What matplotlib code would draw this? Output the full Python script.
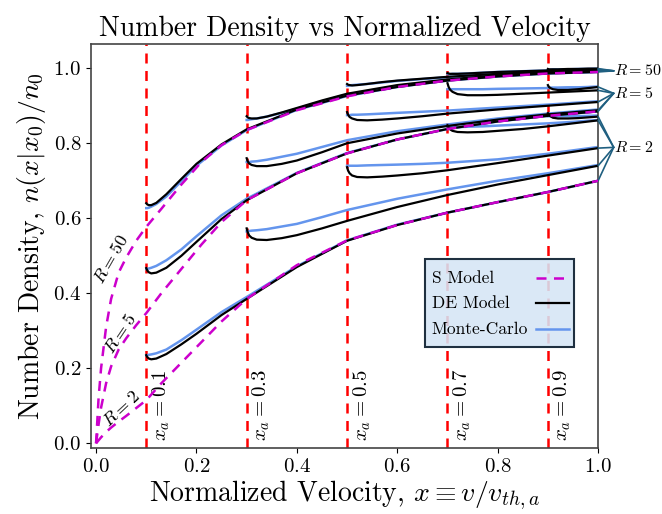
import matplotlib
matplotlib.use("Agg")
import matplotlib.pyplot as plt
from matplotlib.patches import Rectangle
from matplotlib.colors import to_rgba

plt.rcParams['font.family'] = ['cmr10', 'DejaVu Serif']
plt.rcParams['mathtext.fontset'] = 'cm'
plt.rcParams['axes.unicode_minus'] = False
plt.rcParams['axes.formatter.use_mathtext'] = True

R_values = [2, 5, 50]
xa_values = [0.1, 0.3, 0.5, 0.7, 0.9]
legend_labels = ['S Model', 'DE Model', 'Monte-Carlo']

# S model (magenta dashed)
s_x = [0, 0.005, 0.01, 0.02, 0.03, 0.045, 0.06, 0.08, 0.1, 0.13, 0.17, 0.21, 0.25, 0.3,
       0.4, 0.5, 0.6, 0.7, 0.8, 0.9, 1.0]
s_r50 = [0, 0.12, 0.2, 0.31, 0.385, 0.455, 0.495, 0.54, 0.577, 0.625, 0.69, 0.75, 0.795, 0.835,
         0.888, 0.925, 0.95, 0.967, 0.978, 0.986, 0.99]
s_r5 = [0, 0.05, 0.095, 0.16, 0.205, 0.25, 0.28, 0.315, 0.347, 0.40, 0.465, 0.53, 0.59, 0.648,
        0.72, 0.773, 0.81, 0.838, 0.858, 0.873, 0.885]
s_r2 = [0, 0.008, 0.016, 0.03, 0.042, 0.058, 0.073, 0.094, 0.115, 0.16, 0.215, 0.27, 0.325, 0.385,
        0.475, 0.541, 0.582, 0.615, 0.643, 0.67, 0.70]

# x grids of the DE / Monte-Carlo curves for each x_a
x_01 = [0.1, 0.102, 0.105, 0.11, 0.12, 0.14, 0.17, 0.2, 0.25, 0.3, 0.4, 0.5, 0.6, 0.7, 0.8, 0.9, 1.0]
x_03 = [0.3, 0.302, 0.305, 0.31, 0.32, 0.34, 0.37, 0.4, 0.45, 0.5, 0.6, 0.7, 0.8, 0.9, 1.0]
x_05 = [0.5, 0.502, 0.505, 0.51, 0.52, 0.54, 0.57, 0.6, 0.65, 0.7, 0.8, 0.9, 1.0]
x_07 = [0.7, 0.702, 0.705, 0.71, 0.72, 0.74, 0.77, 0.8, 0.85, 0.9, 0.95, 1.0]
x_09 = [0.9, 0.902, 0.905, 0.91, 0.92, 0.94, 0.96, 0.98, 1.0]

# DE model (black)
de_r50_01 = [0.64, 0.637, 0.635, 0.635, 0.641, 0.664, 0.705, 0.745, 0.797, 0.837, 0.89, 0.927, 0.95, 0.967, 0.978, 0.986, 0.99]
de_r50_03 = [0.872, 0.869, 0.867, 0.866, 0.866, 0.871, 0.882, 0.894, 0.914, 0.932, 0.955, 0.97, 0.981, 0.988, 0.992]
de_r50_05 = [0.958, 0.956, 0.955, 0.954, 0.955, 0.958, 0.963, 0.967, 0.972, 0.977, 0.985, 0.991, 0.995]
de_r50_07 = [0.987, 0.986, 0.985, 0.985, 0.985, 0.986, 0.988, 0.99, 0.992, 0.994, 0.996, 0.997]
de_r50_09 = [0.998, 0.997, 0.997, 0.997, 0.997, 0.998, 0.998, 0.999, 0.999]

de_r5_01 = [0.467, 0.461, 0.456, 0.453, 0.455, 0.468, 0.5, 0.537, 0.598, 0.648, 0.72, 0.773, 0.81, 0.838, 0.858, 0.873, 0.885]
de_r5_03 = [0.76, 0.752, 0.746, 0.742, 0.739, 0.739, 0.745, 0.754, 0.776, 0.80, 0.826, 0.846, 0.863, 0.877, 0.888]
de_r5_05 = [0.883, 0.876, 0.87, 0.866, 0.862, 0.861, 0.863, 0.866, 0.872, 0.879, 0.89, 0.90, 0.91]
de_r5_07 = [0.96, 0.951, 0.943, 0.937, 0.931, 0.928, 0.928, 0.929, 0.932, 0.935, 0.938, 0.941]
de_r5_09 = [0.955, 0.95, 0.947, 0.944, 0.942, 0.942, 0.944, 0.947, 0.95]

de_r2_01 = [0.235, 0.23, 0.226, 0.224, 0.226, 0.238, 0.264, 0.292, 0.342, 0.385, 0.47, 0.54, 0.582, 0.615, 0.643, 0.67, 0.70]
de_r2_03 = [0.573, 0.563, 0.554, 0.548, 0.543, 0.542, 0.547, 0.555, 0.573, 0.593, 0.63, 0.662, 0.69, 0.715, 0.74]
de_r2_05 = [0.736, 0.727, 0.72, 0.714, 0.71, 0.709, 0.711, 0.714, 0.72, 0.728, 0.747, 0.767, 0.787]
de_r2_07 = [0.848, 0.842, 0.837, 0.833, 0.83, 0.829, 0.83, 0.833, 0.838, 0.845, 0.853, 0.861]
de_r2_09 = [0.88, 0.876, 0.872, 0.868, 0.866, 0.866, 0.867, 0.869, 0.871]

# Monte-Carlo (blue)
mc_r50_01 = [0.627, 0.627, 0.628, 0.631, 0.638, 0.658, 0.699, 0.74, 0.794, 0.835, 0.889, 0.926, 0.95, 0.967, 0.978, 0.986, 0.99]
mc_r50_03 = [0.862, 0.862, 0.863, 0.864, 0.866, 0.871, 0.881, 0.892, 0.912, 0.93, 0.953, 0.969, 0.98, 0.987, 0.991]
mc_r50_05 = [0.953, 0.953, 0.954, 0.955, 0.956, 0.958, 0.962, 0.966, 0.971, 0.976, 0.984, 0.99, 0.994]
mc_r50_07 = [0.984, 0.984, 0.984, 0.985, 0.985, 0.986, 0.988, 0.99, 0.992, 0.994, 0.995, 0.996]
mc_r50_09 = [0.996, 0.996, 0.996, 0.997, 0.997, 0.997, 0.998, 0.998, 0.999]

mc_r5_01 = [0.465, 0.465, 0.466, 0.468, 0.473, 0.488, 0.517, 0.552, 0.608, 0.652, 0.721, 0.774, 0.81, 0.838, 0.858, 0.873, 0.885]
mc_r5_03 = [0.75, 0.75, 0.75, 0.751, 0.752, 0.756, 0.764, 0.772, 0.79, 0.808, 0.832, 0.85, 0.866, 0.879, 0.89]
mc_r5_05 = [0.875, 0.875, 0.875, 0.876, 0.876, 0.877, 0.879, 0.881, 0.884, 0.887, 0.895, 0.903, 0.912]
mc_r5_07 = [0.944, 0.944, 0.944, 0.944, 0.944, 0.944, 0.944, 0.945, 0.946, 0.947, 0.948, 0.95]
mc_r5_09 = [0.948, 0.948, 0.948, 0.948, 0.948, 0.949, 0.949, 0.95, 0.951]

mc_r2_01 = [0.235, 0.235, 0.236, 0.237, 0.24, 0.25, 0.275, 0.303, 0.35, 0.39, 0.472, 0.541, 0.583, 0.615, 0.643, 0.67, 0.70]
mc_r2_03 = [0.565, 0.565, 0.566, 0.567, 0.568, 0.571, 0.578, 0.585, 0.603, 0.622, 0.652, 0.677, 0.70, 0.72, 0.742]
mc_r2_05 = [0.74, 0.74, 0.74, 0.74, 0.74, 0.741, 0.742, 0.743, 0.745, 0.748, 0.757, 0.772, 0.79]
mc_r2_07 = [0.843, 0.843, 0.843, 0.843, 0.843, 0.844, 0.845, 0.847, 0.85, 0.853, 0.857, 0.862]
mc_r2_09 = [0.872, 0.872, 0.872, 0.872, 0.872, 0.872, 0.872, 0.873, 0.874]

x_grids = [x_01, x_03, x_05, x_07, x_09]
de_curves = {50: [de_r50_01, de_r50_03, de_r50_05, de_r50_07, de_r50_09],
             5: [de_r5_01, de_r5_03, de_r5_05, de_r5_07, de_r5_09],
             2: [de_r2_01, de_r2_03, de_r2_05, de_r2_07, de_r2_09]}
mc_curves = {50: [mc_r50_01, mc_r50_03, mc_r50_05, mc_r50_07, mc_r50_09],
             5: [mc_r5_01, mc_r5_03, mc_r5_05, mc_r5_07, mc_r5_09],
             2: [mc_r2_01, mc_r2_03, mc_r2_05, mc_r2_07, mc_r2_09]}
s_curves = {50: s_r50, 5: s_r5, 2: s_r2}

S_COLOR = '#cc00cc'
DE_COLOR = 'black'
MC_COLOR = '#6495ed'
DASH = (0, (4, 3))

fig = plt.figure(figsize=(6.62, 5.14), dpi=100)
ax = fig.add_axes([0.1375, 0.128, 0.766, 0.786])

for xa in xa_values:
    ax.axvline(xa, color='#ff0000', lw=1.8, ls=DASH, zorder=1)

for R in R_values:
    for xg, yv in zip(x_grids, mc_curves[R]):
        ax.plot(xg, yv, color=MC_COLOR, lw=1.8, zorder=2)
    for xg, yv in zip(x_grids, de_curves[R]):
        ax.plot(xg, yv, color=DE_COLOR, lw=1.6, zorder=3)
    ax.plot(s_x, s_curves[R], color=S_COLOR, lw=1.8, ls=DASH, zorder=4)

# legend box (texts left aligned, handles on the right)
ax.add_patch(Rectangle((0.659, 0.25), 0.293, 0.218, transform=ax.transAxes,
                       facecolor=to_rgba('#d5e5f5', 0.88), edgecolor='#1f3040',
                       lw=1.5, zorder=6))
row_y = [0.421, 0.359, 0.295]
styles = [(S_COLOR, DASH, 1.8), (DE_COLOR, '-', 1.6), (MC_COLOR, '-', 1.8)]
for lab, yy, (c, ls, lw) in zip(legend_labels, row_y, styles):
    ax.text(0.672, yy, lab, transform=ax.transAxes, fontsize=12.5, ha='left',
            va='center', zorder=7)
    ax.plot([0.878, 0.942], [yy, yy], transform=ax.transAxes, color=c, ls=ls,
            lw=lw, zorder=7)

for xa in xa_values:
    ax.text(xa + 0.008, 0.005, r'$x_a=%.1f$' % xa, rotation=90, fontsize=15,
            ha='left', va='bottom')

ax.text(0.03, 0.49, r'$R=50$', rotation=60, fontsize=13, ha='center', va='center')
ax.text(0.048, 0.293, r'$R=5$', rotation=56, fontsize=13, ha='center', va='center')
ax.text(0.05, 0.091, r'$R=2$', rotation=43, fontsize=13, ha='center', va='center')

label_pos = {50: 0.993, 5: 0.933, 2: 0.789}
for R in R_values:
    ax.text(1.031, label_pos[R], r'$R=%d$' % R, fontsize=11.5, ha='left', va='center',
            clip_on=False)
    for xg, yv in zip(x_grids, de_curves[R]):
        ax.annotate('', xy=(xg[-1], yv[-1]), xytext=(1.031, label_pos[R]),
                    textcoords='data', annotation_clip=False,
                    arrowprops=dict(arrowstyle='-', color='#1f5f80', lw=1.2,
                                    shrinkA=0, shrinkB=0))

ax.set_xlim(-0.01, 1.0)
ax.set_ylim(-0.013, 1.064)
ax.set_xticks([0.0, 0.2, 0.4, 0.6, 0.8, 1.0])
ax.set_yticks([0.0, 0.2, 0.4, 0.6, 0.8, 1.0])
ax.tick_params(labelsize=15)
for sp in ax.spines.values():
    sp.set_color('#444444')
    sp.set_linewidth(1.2)

ax.set_title('Number Density vs Normalized Velocity', fontsize=20)
ax.set_xlabel(r'Normalized Velocity, $x\equiv v/v_{th,a}$', fontsize=20, labelpad=2)
ax.set_ylabel(r'Number Density, $n(x|x_0)/n_0$', fontsize=20, labelpad=4)

fig.savefig('out.png', dpi=100)
